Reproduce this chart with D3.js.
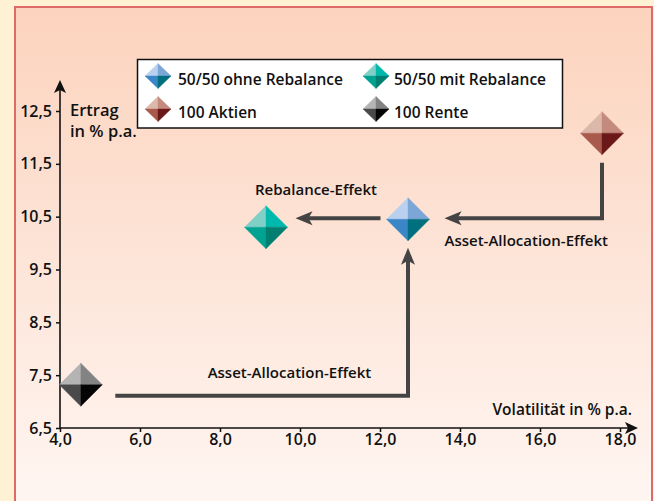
<!DOCTYPE html>
<html><head><meta charset="utf-8">
<script src="https://cdn.jsdelivr.net/npm/d3@7"></script>
<style>
html,body{margin:0;padding:0;background:#fff1d3;}
svg{display:block;font-family:"Open Sans",sans-serif;}
</style></head>
<body>
<script>
// ---- data ----
const names = ["50/50 ohne Rebalance", "50/50 mit Rebalance", "100 Aktien", "100 Rente"];
const volatility = [12.7, 9.15, 17.55, 4.52];   // % p.a.
const returns = [10.45, 10.3, 12.08, 7.32];      // % p.a.
const xTicks = [4, 6, 8, 10, 12, 14, 16, 18];
const xTickLabels = ["4,0", "6,0", "8,0", "10,0", "12,0", "14,0", "16,0", "18,0"];
const yTicks = [6.5, 7.5, 8.5, 9.5, 10.5, 11.5, 12.5];
const yTickLabels = ["6,5", "7,5", "8,5", "9,5", "10,5", "11,5", "12,5"];
const palettes = [
  ["#b9d0ee", "#7ba6d6", "#3a86c6", "#00707e"],
  ["#80d0c8", "#00b8ab", "#00a291", "#007f70"],
  ["#dbb8aa", "#c38a7d", "#a85a4c", "#6a1818"],
  ["#b4b4b4", "#838383", "#4a4a4a", "#050505"]
];
const effectLabels = ["Rebalance-Effekt", "Asset-Allocation-Effekt", "Asset-Allocation-Effekt"];

const W = 654, H = 501;
const FW = 600;
const svg = d3.select("body").append("svg").attr("width", W).attr("height", H);
const defs = svg.append("defs");
const grad = defs.append("linearGradient").attr("id", "bg").attr("x1", 0).attr("y1", 0).attr("x2", 0).attr("y2", 1);
grad.append("stop").attr("offset", "0%").attr("stop-color", "#fcd3bd");
grad.append("stop").attr("offset", "55%").attr("stop-color", "#fde6da");
grad.append("stop").attr("offset", "100%").attr("stop-color", "#fff6f2");

// panel
svg.append("rect").attr("x", 0).attr("y", 0).attr("width", W).attr("height", H).attr("fill", "#fff1d3");
svg.append("rect").attr("x", 15).attr("y", 7).attr("width", 637).attr("height", H).attr("fill", "url(#bg)")
  .attr("stroke", "#dd6a66").attr("stroke-width", 2);

const x = d3.scaleLinear().domain([4, 18]).range([60, 620]);
const y = d3.scaleLinear().domain([6.5, 12.5]).range([428, 111]);

// axes
const xAxis = d3.axisBottom(x).tickValues(xTicks).tickFormat((d, i) => xTickLabels[i]).tickSize(4).tickPadding(2);
const gx = svg.append("g").attr("transform", "translate(0,428)").call(xAxis);
gx.select(".domain").remove();
gx.selectAll("line").attr("stroke", "#111").attr("stroke-width", 1.5);
gx.selectAll("text").attr("font-size", 16).attr("fill", "#111").attr("font-weight", FW).attr("font-family", "Open Sans");

const yAxis = d3.axisLeft(y).tickValues(yTicks).tickFormat((d, i) => yTickLabels[i]).tickSize(4).tickPadding(4);
const gy = svg.append("g").attr("transform", "translate(60,0)").call(yAxis);
gy.select(".domain").remove();
gy.selectAll("line").attr("stroke", "#111").attr("stroke-width", 1.5);
gy.selectAll("text").attr("font-size", 16).attr("fill", "#111").attr("font-weight", FW).attr("font-family", "Open Sans");

// axis lines with arrowheads
svg.append("line").attr("x1", 60).attr("y1", 428).attr("x2", 628).attr("y2", 428).attr("stroke", "#111").attr("stroke-width", 1.6);
svg.append("path").attr("d", "M638,428 L625,422 L628,428 L625,434 Z").attr("fill", "#111");
svg.append("line").attr("x1", 60).attr("y1", 428).attr("x2", 60).attr("y2", 90).attr("stroke", "#111").attr("stroke-width", 1.6);
svg.append("path").attr("d", "M60,80 L54,93 L60,90 L66,93 Z").attr("fill", "#111");

svg.append("text").attr("x", 70).attr("y", 116).attr("font-size", 16.5).attr("font-weight", FW).attr("fill", "#111").text("Ertrag");
svg.append("text").attr("x", 70).attr("y", 137).attr("font-size", 16.5).attr("font-weight", FW).attr("fill", "#111").text("in % p.a.");
svg.append("text").attr("x", 632).attr("y", 415).attr("text-anchor", "end").attr("font-size", 15.5).attr("font-weight", FW).attr("fill", "#111").text("Volatilität in % p.a.");

// diamond drawing
function diamond(g, cx, cy, hw, hh, pal) {
  const L = [cx - hw, cy], T = [cx, cy - hh], R = [cx + hw, cy], B = [cx, cy + hh], C = [cx, cy];
  const tris = [[L, T, C], [T, R, C], [L, B, C], [B, R, C]];
  g.selectAll(null).data(tris).enter().append("path")
    .attr("d", t => "M" + t.map(p => p.join(",")).join("L") + "Z")
    .attr("fill", (t, i) => pal[i]).attr("stroke", (t, i) => pal[i]).attr("stroke-width", 0.4);
}

const pts = names.map((n, i) => ({name: n, vx: volatility[i], vy: returns[i], pal: palettes[i]}));
const P = pts.map(p => ({px: x(p.vx), py: y(p.vy)}));
const half = 21.5;

// arrows
const arrowColor = "#444";
function arrow(points) {
  const n = points.length;
  const tip = points[n - 1], prev = points[n - 2];
  const dx = tip[0] - prev[0], dy = tip[1] - prev[1], len = Math.hypot(dx, dy);
  const ux = dx / len, uy = dy / len, nx = -uy, ny = ux;
  const end = [tip[0] - ux * 12, tip[1] - uy * 12];
  const line = points.slice(0, n - 1).concat([end]);
  svg.append("path").attr("d", d3.line()(line)).attr("fill", "none").attr("stroke", arrowColor)
    .attr("stroke-width", 4).attr("stroke-linejoin", "miter");
  const head = [tip,
    [tip[0] - ux * 17 + nx * 7, tip[1] - uy * 17 + ny * 7],
    [tip[0] - ux * 13, tip[1] - uy * 13],
    [tip[0] - ux * 17 - nx * 7, tip[1] - uy * 17 - ny * 7]];
  svg.append("path").attr("d", d3.line()(head) + "Z").attr("fill", arrowColor);
}
const [O, M, A, Rn] = P;
arrow([[A.px, A.py + half + 8], [A.px, O.py - 1], [O.px + half + 15, O.py - 1]]);
arrow([[O.px - half - 6, O.py - 1], [M.px + half + 8, O.py - 1]]);
arrow([[Rn.px + half + 13, Rn.py + 11], [O.px, Rn.py + 11], [O.px, O.py + half + 7]]);

// effect labels
const lab = (t, xx, yy, anchor) => svg.append("text").attr("x", xx).attr("y", yy).attr("text-anchor", anchor)
  .attr("font-size", 15).attr("font-weight", FW).attr("fill", "#111").text(t);
lab(effectLabels[0], (O.px + M.px) / 2 - 21, O.py - 24, "middle");
lab(effectLabels[1], O.px + half + 15, O.py + 27, "start");
lab(effectLabels[2], (Rn.px + O.px) / 2 + 45, Rn.py - 7, "middle");

// points
pts.forEach((p, i) => diamond(svg.append("g"), P[i].px, P[i].py, half, half, p.pal));

// legend
const lg = svg.append("g");
lg.append("rect").attr("x", 137.5).attr("y", 59.5).attr("width", 425).attr("height", 68.5)
  .attr("fill", "#fff").attr("stroke", "#111").attr("stroke-width", 1.5);
const legPos = [[158, 76], [376, 76], [158, 109], [376, 109]];
pts.forEach((p, i) => {
  diamond(lg.append("g"), legPos[i][0], legPos[i][1], 13, 12.5, p.pal);
  lg.append("text").attr("x", legPos[i][0] + (i % 2 ? 18 : 20)).attr("y", legPos[i][1] + 8.5)
    .attr("font-size", 15.5).attr("font-weight", FW).attr("fill", "#111").text(p.name);
});
</script>
</body></html>
